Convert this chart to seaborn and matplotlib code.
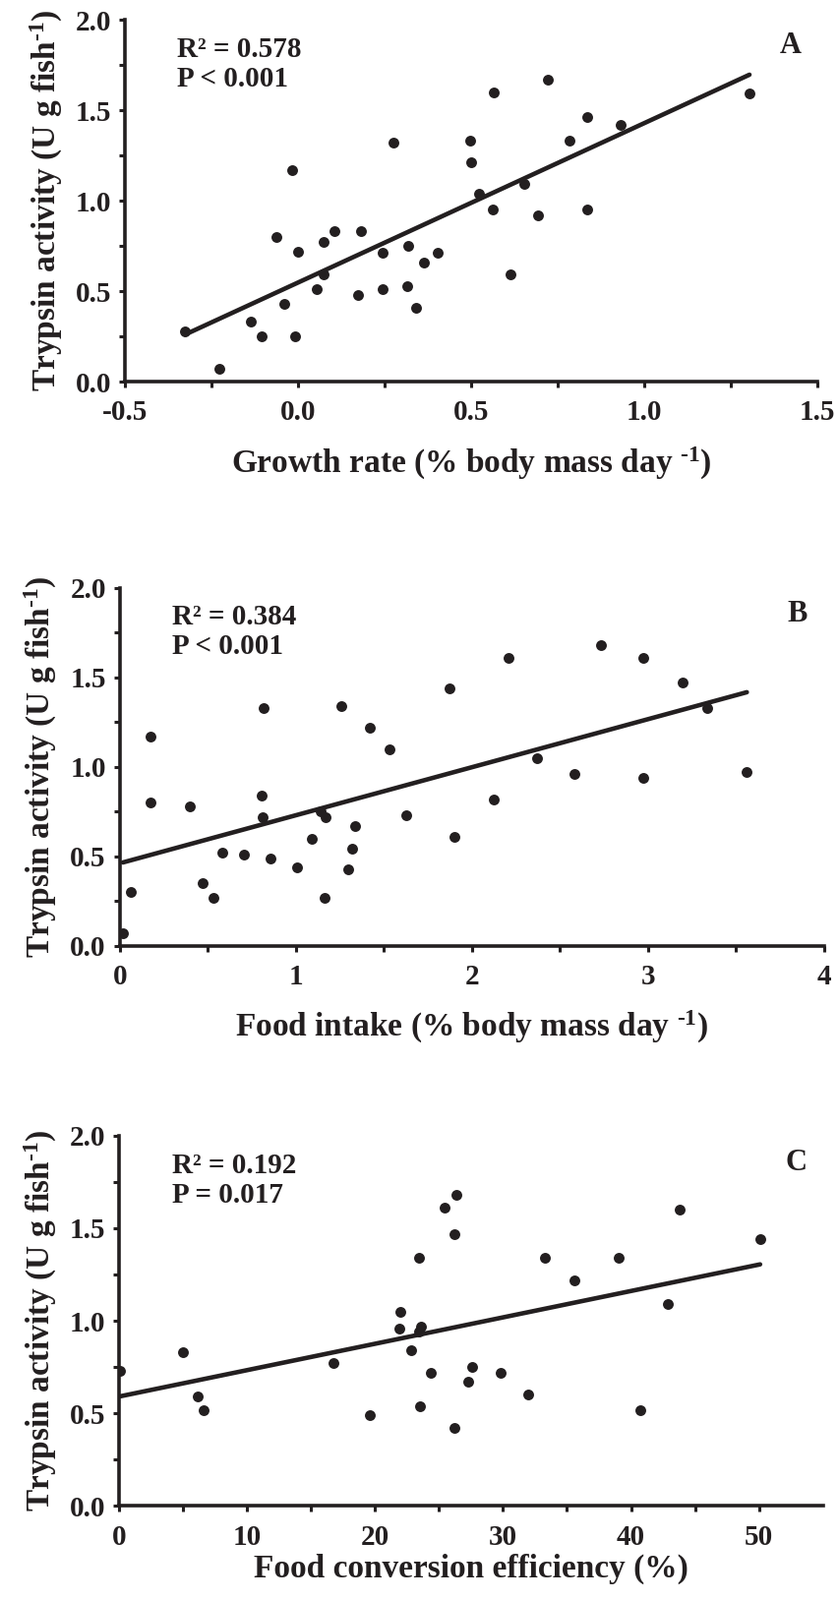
import numpy as np
import pandas as pd
import matplotlib
matplotlib.use('Agg')
import matplotlib.pyplot as plt
from matplotlib.ticker import MultipleLocator, FormatStrFormatter
import seaborn as sns

# Panel A: growth rate vs trypsin activity
growth_rate = [-0.326, -0.228, -0.136, -0.105, -0.009, -0.063, -0.016, 0.001, -0.039, 0.053,
               0.074, 0.075, 0.105, 0.183, 0.173, 0.276, 0.244, 0.245, 0.318, 0.315,
               0.342, 0.364, 0.403, 0.565, 0.723, 0.496, 0.501, 0.522, 0.654, 0.562,
               0.692, 0.834, 0.614, 0.836, 0.933, 0.785, 1.304]
trypsin_a = [0.28, 0.07, 0.33, 0.25, 0.25, 0.80, 1.17, 0.72, 0.43, 0.51,
             0.77, 0.59, 0.83, 0.83, 0.48, 1.32, 0.71, 0.51, 0.75, 0.53,
             0.41, 0.66, 0.71, 1.60, 1.67, 1.33, 1.21, 1.04, 1.09, 0.95,
             0.92, 0.95, 0.59, 1.46, 1.42, 1.33, 1.59]

# Panel B: food intake vs trypsin activity
food_intake = [0.018, 0.065, 0.177, 0.177, 0.400, 0.469, 0.531, 0.581, 0.707, 0.815,
               0.804, 0.810, 0.856, 1.006, 1.164, 1.089, 1.14, 1.17, 1.259, 1.419,
               1.531, 1.337, 1.318, 1.298, 1.629, 1.875, 1.903, 2.207, 2.126, 2.370,
               2.583, 2.732, 2.975, 2.975, 3.197, 3.339, 3.562]
trypsin_b = [0.07, 0.30, 1.17, 0.80, 0.78, 0.35, 0.27, 0.52, 0.51, 1.33,
             0.84, 0.72, 0.49, 0.44, 0.27, 0.60, 0.75, 0.72, 1.34, 1.22,
             1.10, 0.67, 0.54, 0.43, 0.73, 1.44, 0.61, 1.61, 0.82, 1.05,
             0.96, 1.68, 1.61, 0.94, 1.47, 1.33, 0.97]

# Panel C: food conversion efficiency vs trypsin activity
conversion = [0.1, 4.96, 6.14, 6.63, 16.73, 19.62, 22.0, 21.87, 23.6, 23.4,
              22.85, 24.38, 23.53, 26.19, 23.41, 25.4, 26.35, 26.2, 27.55, 27.27,
              29.78, 31.98, 33.26, 35.61, 39.06, 42.85, 40.73, 43.8, 50.09]
trypsin_c = [0.73, 0.83, 0.59, 0.52, 0.77, 0.49, 1.05, 0.96, 0.97, 0.94,
             0.84, 0.72, 0.54, 0.42, 1.34, 1.61, 1.68, 1.47, 0.75, 0.67,
             0.72, 0.60, 1.34, 1.22, 1.34, 1.09, 0.52, 1.60, 1.44]

INK = '#231f20'

sns.set_theme(style='ticks')
plt.rcParams['font.family'] = ['Liberation Serif', 'DejaVu Serif']
plt.rcParams['font.weight'] = 'bold'
plt.rcParams['axes.unicode_minus'] = False
plt.rcParams['mathtext.fontset'] = 'custom'
plt.rcParams['mathtext.rm'] = 'Liberation Serif:bold'
plt.rcParams['mathtext.bf'] = 'Liberation Serif:bold'
plt.rcParams['mathtext.it'] = 'Liberation Serif:bold:italic'
plt.rcParams['mathtext.default'] = 'rm'

YLABEL = r'Trypsin activity (U g fish$^{\text{-}1}$)'


def draw_panel(ax, x, y, xlim, xmajor, xfmt, xlabel, stats, letter, xlabelpad):
    df = pd.DataFrame({'x': x, 'y': y})
    sns.regplot(data=df, x='x', y='y', ax=ax, ci=None, color=INK,
                scatter_kws=dict(s=62, linewidths=0, alpha=1),
                line_kws=dict(lw=3.3, color=INK))
    ax.set_xlim(*xlim)
    ax.set_ylim(0, 2)
    ax.xaxis.set_major_locator(MultipleLocator(xmajor))
    # half-step minor ticks, none past the last labelled value
    last = xlim[0] + xmajor * np.floor((xlim[1] - xlim[0]) / xmajor + 1e-9)
    ax.set_xticks(np.arange(xlim[0] + xmajor / 2, last, xmajor), minor=True)
    ax.xaxis.set_major_formatter(FormatStrFormatter(xfmt))
    ax.yaxis.set_major_locator(MultipleLocator(0.5))
    ax.yaxis.set_minor_locator(MultipleLocator(0.25))
    ax.yaxis.set_major_formatter(FormatStrFormatter('%.1f'))
    sns.despine(ax=ax)
    for side in ['left', 'bottom']:
        ax.spines[side].set_linewidth(2.6)
        ax.spines[side].set_color(INK)
    ax.tick_params(which='both', direction='out', length=4, width=2.2, color=INK)
    ax.tick_params(axis='x', which='major', labelsize=21, pad=9, labelcolor=INK)
    ax.tick_params(axis='y', which='major', labelsize=21, pad=6, labelcolor=INK)
    for lab in ax.get_xticklabels() + ax.get_yticklabels():
        lab.set_fontweight('bold')
    ax.set_xlabel(xlabel, fontsize=24, fontweight='bold', color=INK, labelpad=xlabelpad)
    ax.set_ylabel(YLABEL, fontsize=24, fontweight='bold', color=INK, labelpad=8)
    ax.text(0.075, 0.955, stats, transform=ax.transAxes, fontsize=21,
            fontweight='bold', color=INK, ha='left', va='top', linespacing=1.15)
    ax.text(0.962, 0.927, letter, transform=ax.transAxes, fontsize=22,
            fontweight='bold', color=INK, ha='center', va='center')


fig = plt.figure(figsize=(8.53, 16.27), dpi=100)
ax_a = fig.add_axes([0.1489, 0.7615, 0.8253, 0.2262])
ax_b = fig.add_axes([0.1427, 0.4089, 0.8394, 0.2236])
ax_c = fig.add_axes([0.1419, 0.0587, 0.8390, 0.2316])

draw_panel(ax_a, growth_rate, trypsin_a, (-0.5, 1.5), 0.5, '%.1f',
           r'Growth rate (% body mass day $^{\text{-}1}$)', 'R² = 0.578\nP < 0.001', 'A', 14)
draw_panel(ax_b, food_intake, trypsin_b, (0, 4), 1, '%d',
           r'Food intake (% body mass day $^{\text{-}1}$)', 'R² = 0.384\nP < 0.001', 'B', 14)
draw_panel(ax_c, conversion, trypsin_c, (0, 55), 10, '%d',
           'Food conversion efficiency (%)', 'R² = 0.192\nP = 0.017', 'C', 2)

fig.savefig('out.png', dpi=100, facecolor='white')
